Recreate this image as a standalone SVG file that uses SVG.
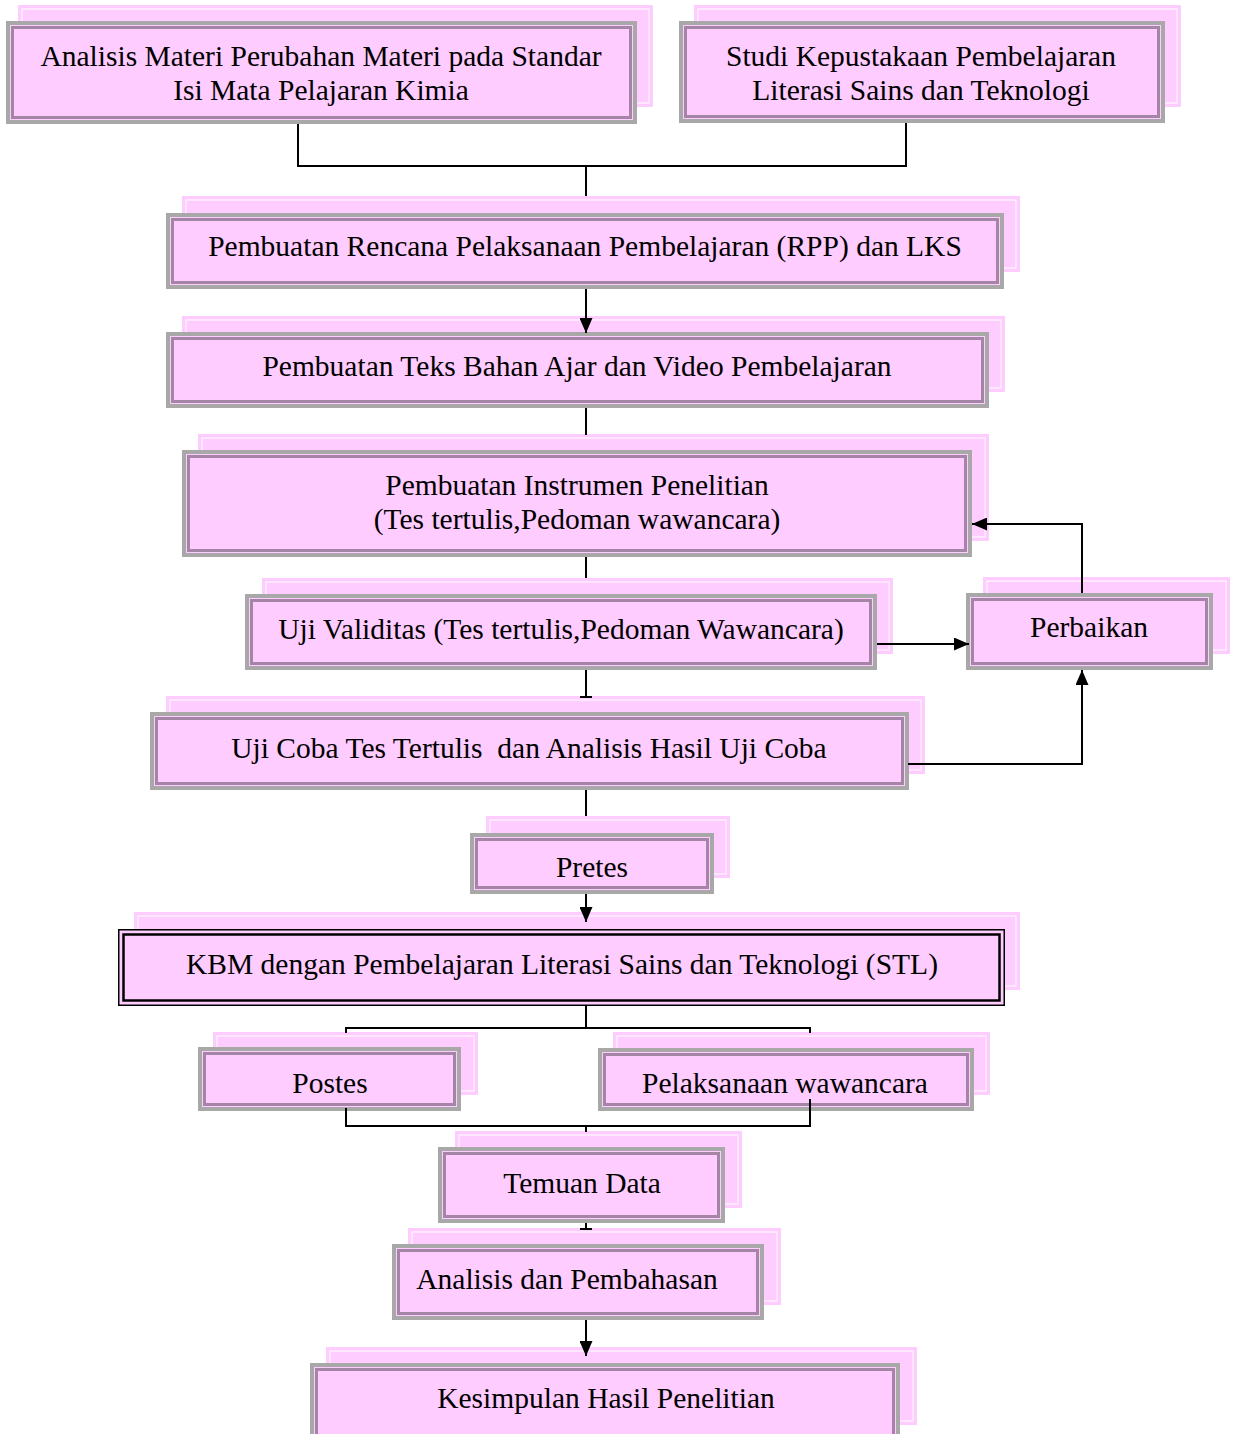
<svg xmlns="http://www.w3.org/2000/svg" width="1234" height="1434" viewBox="0 0 1234 1434">
<style>
.sh{fill:#ffccff;stroke:#ffccff;stroke-width:2}
.shi{fill:none;stroke:#ffffff;stroke-width:1}
.o{fill:#ffccff;stroke:#a8a8a8;stroke-width:4}
.i{fill:none;stroke:#a585a5;stroke-width:3}
.kb1{fill:#ffccff;stroke:#000;stroke-width:1.5}
.kb2{fill:none;stroke:#000;stroke-width:2.5}
text{font-family:"Liberation Serif","Times New Roman",serif;font-size:29.5px;fill:#000;text-anchor:middle}
.c{fill:none;stroke:#000;stroke-width:2}
</style>
<defs>
<marker id="ah" markerWidth="15" markerHeight="13" refX="15" refY="6.5" orient="auto" markerUnits="userSpaceOnUse"><path d="M0,0 L15,6.5 L0,13 z" fill="#000"/></marker>
</defs>
<g id="n1"><rect class="sh" x="19" y="6" width="633" height="100"/><rect class="shi" x="22" y="9" width="627" height="94"/><rect class="o" x="8" y="23" width="627" height="99"/><rect class="i" x="12.5" y="27.5" width="618" height="90"/><text x="321" y="66">Analisis Materi Perubahan Materi pada Standar</text><text x="321" y="100">Isi Mata Pelajaran Kimia</text></g>
<g id="n2"><rect class="sh" x="695" y="6" width="485" height="100"/><rect class="shi" x="698" y="9" width="479" height="94"/><rect class="o" x="681" y="23" width="482" height="98"/><rect class="i" x="685.5" y="27.5" width="473" height="89"/><text x="921" y="66">Studi Kepustakaan Pembelajaran</text><text x="921" y="100">Literasi Sains dan Teknologi</text></g>
<g id="n3"><rect class="sh" x="183" y="197" width="836" height="74"/><rect class="shi" x="186" y="200" width="830" height="68"/><rect class="o" x="168" y="215" width="834" height="72"/><rect class="i" x="172.5" y="219.5" width="825" height="63"/><text x="585" y="256">Pembuatan Rencana Pelaksanaan Pembelajaran (RPP) dan LKS</text></g>
<g id="n4"><rect class="sh" x="183" y="317" width="821" height="74"/><rect class="shi" x="186" y="320" width="815" height="68"/><rect class="o" x="168" y="334" width="819" height="72"/><rect class="i" x="172.5" y="338.5" width="810" height="63"/><text x="577" y="376">Pembuatan Teks Bahan Ajar dan Video Pembelajaran</text></g>
<g id="n5"><rect class="sh" x="199" y="435" width="789" height="105"/><rect class="shi" x="202" y="438" width="783" height="99"/><rect class="o" x="184" y="452" width="786" height="103"/><rect class="i" x="188.5" y="456.5" width="777" height="94"/><text x="577" y="495">Pembuatan Instrumen Penelitian</text><text x="577" y="529">(Tes tertulis,Pedoman wawancara)</text></g>
<g id="n6"><rect class="sh" x="263" y="579" width="629" height="74"/><rect class="shi" x="266" y="582" width="623" height="68"/><rect class="o" x="247" y="596" width="628" height="72"/><rect class="i" x="251.5" y="600.5" width="619" height="63"/><text x="561" y="639">Uji Validitas (Tes tertulis,Pedoman Wawancara)</text></g>
<g id="n7"><rect class="sh" x="984" y="578" width="245" height="75"/><rect class="shi" x="987" y="581" width="239" height="69"/><rect class="o" x="968" y="595" width="243" height="73"/><rect class="i" x="972.5" y="599.5" width="234" height="64"/><text x="1089" y="637">Perbaikan</text></g>
<g id="n8"><rect class="sh" x="167" y="697" width="757" height="76"/><rect class="shi" x="170" y="700" width="751" height="70"/><rect class="o" x="152" y="714" width="755" height="74"/><rect class="i" x="156.5" y="718.5" width="746" height="65"/><text x="529" y="758" xml:space="preserve">Uji Coba Tes Tertulis  dan Analisis Hasil Uji Coba</text></g>
<g id="n9"><rect class="sh" x="487" y="817" width="242" height="60"/><rect class="shi" x="490" y="820" width="236" height="54"/><rect class="o" x="472" y="835" width="240" height="57"/><rect class="i" x="476.5" y="839.5" width="231" height="48"/><text x="592" y="877">Pretes</text></g>
<g id="n10"><rect class="sh" x="135" y="913" width="884" height="76"/><rect class="shi" x="138" y="916" width="878" height="70"/><rect class="kb1" x="118.75" y="929.75" width="885.5" height="75.5"/><rect class="kb2" x="123.5" y="934.5" width="876" height="66"/><text x="562" y="974">KBM dengan Pembelajaran Literasi Sains dan Teknologi (STL)</text></g>
<g id="n11"><rect class="sh" x="214" y="1033" width="263" height="61"/><rect class="shi" x="217" y="1036" width="257" height="55"/><rect class="o" x="200" y="1049" width="259" height="60"/><rect class="i" x="204.5" y="1053.5" width="250" height="51"/><text x="330" y="1093">Postes</text></g>
<g id="n12"><rect class="sh" x="614" y="1033" width="375" height="61"/><rect class="shi" x="617" y="1036" width="369" height="55"/><rect class="o" x="600" y="1050" width="372" height="59"/><rect class="i" x="604.5" y="1054.5" width="363" height="50"/><text x="785" y="1093">Pelaksanaan wawancara</text></g>
<g id="n13"><rect class="sh" x="456" y="1132" width="285" height="75"/><rect class="shi" x="459" y="1135" width="279" height="69"/><rect class="o" x="440" y="1149" width="283" height="72"/><rect class="i" x="444.5" y="1153.5" width="274" height="63"/><text x="582" y="1193">Temuan Data</text></g>
<g id="n14"><rect class="sh" x="409" y="1229" width="371" height="75"/><rect class="shi" x="412" y="1232" width="365" height="69"/><rect class="o" x="394" y="1246" width="368" height="72"/><rect class="i" x="398.5" y="1250.5" width="359" height="63"/><text x="567" y="1289">Analisis dan Pembahasan</text></g>
<g id="n15"><rect class="sh" x="327" y="1348" width="589" height="76"/><rect class="shi" x="330" y="1351" width="583" height="70"/><rect class="o" x="312" y="1365" width="586" height="80"/><rect class="i" x="316.5" y="1369.5" width="577" height="80"/><text x="606" y="1408">Kesimpulan Hasil Penelitian</text></g>
<g id="connectors">
<path class="c" d="M298,124 V166 H906 V123"/>
<path class="c" d="M586,166 V196"/>
<path class="c" d="M586,289 V333" marker-end="url(#ah)"/>
<path class="c" d="M586,408 V435"/>
<path class="c" d="M586,557 V578"/>
<path class="c" d="M877,644 H969" marker-end="url(#ah)"/>
<path class="c" d="M1082,593 V524 H972" marker-end="url(#ah)"/>
<path class="c" d="M586,670 V697 M580,697 H592"/>
<path class="c" d="M908,764 H1082 V670" marker-end="url(#ah)"/>
<path class="c" d="M586,790 V816"/>
<path class="c" d="M586,894 V922" marker-end="url(#ah)"/>
<path class="c" d="M586,1006 V1028 M346,1033 V1028 H810 V1033"/>
<path class="c" d="M346,1108 V1126 H810 V1099 M586,1126 V1132"/>
<path class="c" d="M586,1223 V1229 M580,1229 H592"/>
<path class="c" d="M586,1320 V1356" marker-end="url(#ah)"/>
</g>
</svg>
